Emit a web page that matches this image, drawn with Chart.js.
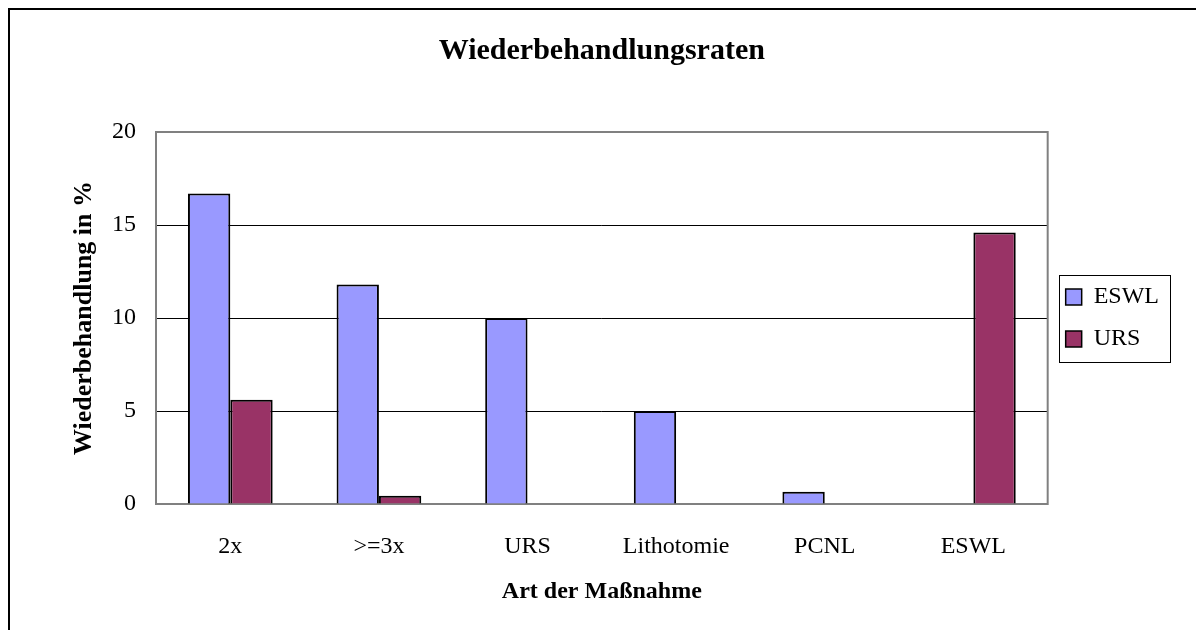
<!DOCTYPE html>
<html lang="de">
<head>
    <meta charset="UTF-8">
    <title>Wiederbehandlungsraten</title>
    <script src="https://cdn.jsdelivr.net/npm/chart.js@4.4.1/dist/chart.umd.min.js"></script>
    <style>
        body {
            margin: 0;
            background: #fff;
        }

        .chart-container {
            position: relative;
            width: 1196px;
            height: 630px;
        }
    </style>
</head>
<body>

    <div class="chart-container">
        <canvas id="chart"></canvas>
    </div>

<script>

// Daten
var categories = ['2x', '>=3x', 'URS', 'Lithotomie', 'PCNL', 'ESWL'];
var eswlValues = [16.7, 11.8, 10.0, 5.0, 0.66, 0];
var ursValues = [5.6, 0.45, 0, 0, 0, 14.6];
var yTicks = [0, 5, 10, 15, 20];

var serif = "'Liberation Serif', 'Times New Roman', serif";

// weisser Hintergrund + Rahmen links/oben
var framePlugin = {
    id: 'frame',
    beforeDraw: function(chart) {
        var c = chart.ctx;
        c.save();
        c.fillStyle = '#fff';
        c.fillRect(0, 0, chart.width, chart.height);
        c.strokeStyle = '#000';
        c.lineWidth = 2;
        c.beginPath();
        c.moveTo(9, chart.height);
        c.lineTo(9, 9);
        c.lineTo(chart.width, 9);
        c.stroke();
        c.restore();
    },
    beforeDatasetsDraw: function(chart) {
        var a = chart.chartArea;
        var c = chart.ctx;
        c.save();
        c.strokeStyle = '#808080';
        c.lineWidth = 2;
        c.strokeRect(a.left, a.top, a.right - a.left, a.bottom - a.top);
        c.restore();
    },
    afterDraw: function(chart) {
        // Kasten um die Legende
        var boxes = chart.legend.legendHitBoxes;
        if (!boxes || !boxes.length) return;
        var minX = Infinity, minY = Infinity, maxX = -Infinity, maxY = -Infinity;
        boxes.forEach(function(b) {
            minX = Math.min(minX, b.left);
            minY = Math.min(minY, b.top);
            maxX = Math.max(maxX, b.left + b.width);
            maxY = Math.max(maxY, b.top + b.height);
        });
        var c = chart.ctx;
        c.save();
        c.strokeStyle = '#000';
        c.lineWidth = 1;
        c.strokeRect(Math.round(minX - 7) + 0.5, Math.round(minY - 10) + 0.5,
            Math.round(maxX - minX + 18), Math.round(maxY - minY + 21));
        c.restore();
    }
};

var ctx = document.getElementById('chart').getContext('2d');

var chart = new Chart(ctx, {
    type: 'bar',
    data: {
        labels: categories,
        datasets: [
            {
                label: 'ESWL',
                data: eswlValues,
                backgroundColor: '#9999FF',
                borderColor: '#000',
                borderWidth: 2,
            },
            {
                label: 'URS',
                data: ursValues,
                backgroundColor: '#993366',
                borderColor: '#000',
                borderWidth: 2,
            },
        ]
    },
    options: {
        responsive: true,
        maintainAspectRatio: false,
        animation: false,
        layout: {
            padding: { left: 0, right: 27, top: 0, bottom: 0 }
        },
        datasets: {
            bar: {
                categoryPercentage: 0.57,
                barPercentage: 1.0,
            }
        },
        plugins: {
            tooltip: { enabled: false },
            title: {
                display: true,
                text: 'Wiederbehandlungsraten',
                color: '#000',
                fullSize: false,
                font: { family: serif, size: 30, weight: 'bold' },
                padding: { top: 33, bottom: 63 },
            },
            legend: {
                position: 'right',
                fullSize: false,
                labels: {
                    color: '#000',
                    font: { family: serif, size: 24 },
                    boxWidth: 16,
                    boxHeight: 16,
                    padding: 18,
                    generateLabels: function(chart) {
                        return chart.data.datasets.map(function(ds, i) {
                            return {
                                text: ds.label,
                                fillStyle: ds.backgroundColor,
                                strokeStyle: '#000',
                                lineWidth: 1.5,
                                datasetIndex: i,
                                fontColor: '#000',
                            };
                        });
                    }
                }
            }
        },
        scales: {
            x: {
                grid: { display: false },
                border: { display: false },
                ticks: {
                    color: '#000',
                    font: { family: serif, size: 24 },
                    padding: 20,
                    maxRotation: 0,
                },
                title: {
                    display: true,
                    text: 'Art der Maßnahme',
                    color: '#000',
                    font: { family: serif, size: 24, weight: 'bold' },
                    padding: { bottom: 24 },
                },
                afterFit: function(scale) {
                    scale.height = 126;
                }
            },
            y: {
                min: 0,
                max: 20,
                afterBuildTicks: function(scale) {
                    scale.ticks = yTicks.map(function(v) { return { value: v }; });
                },
                grid: {
                    drawTicks: false,
                    color: function(c) {
                        return (c.tick.value === 0 || c.tick.value === 20) ? 'rgba(0,0,0,0)' : '#000';
                    },
                    lineWidth: 1,
                },
                border: { display: false },
                ticks: {
                    color: '#000',
                    font: { family: serif, size: 24 },
                    padding: 20,
                },
                title: {
                    display: true,
                    text: 'Wiederbehandlung in %',
                    color: '#000',
                    font: { family: serif, size: 26, weight: 'bold' },
                    padding: { top: 69 },
                },
                afterFit: function(scale) {
                    scale.width = 156;
                }
            }
        }
    },
    plugins: [framePlugin]
});

</script>

</body>
</html>
